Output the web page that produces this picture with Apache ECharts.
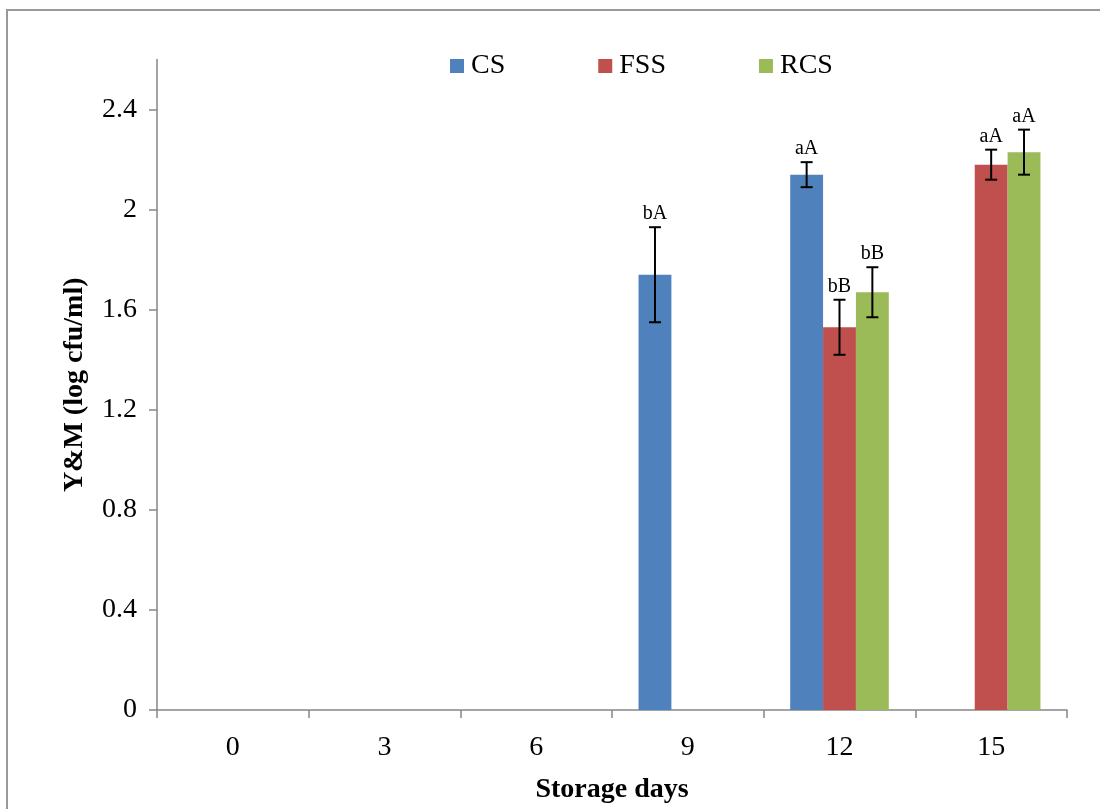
<!DOCTYPE html>
<html>
<head>
<meta charset="utf-8">
<script src="https://cdn.jsdelivr.net/npm/echarts@6/dist/echarts.min.js"></script>
<style>
html,body{margin:0;padding:0;background:#fff;overflow:hidden;}
#chart{width:1100px;height:809px;}
</style>
</head>
<body>
<div id="chart"></div>
<script>
const categories = ['0', '3', '6', '9', '12', '15'];
const seriesNames = ['CS', 'FSS', 'RCS'];
const csValues  = [null, null, null, 1.74, 2.14, null];
const fssValues = [null, null, null, null, 1.53, 2.18];
const rcsValues = [null, null, null, null, 1.67, 2.23];
const csErrors  = [null, null, null, 0.19, 0.05, null];
const fssErrors = [null, null, null, null, 0.11, 0.06];
const rcsErrors = [null, null, null, null, 0.10, 0.09];
const csLabels  = ['', '', '', 'bA', 'aA', ''];
const fssLabels = ['', '', '', '', 'bB', 'aA'];
const rcsLabels = ['', '', '', '', 'bB', 'aA'];
const yTicks = [0, 0.4, 0.8, 1.2, 1.6, 2, 2.4];
const yMax = 2.6;

const colors = ['#4F81BD', '#C0504D', '#9BBB59'];
const FONT = "'Liberation Serif', 'Times New Roman', serif";
const values = [csValues, fssValues, rcsValues];
const errors = [csErrors, fssErrors, rcsErrors];
const labels = [csLabels, fssLabels, rcsLabels];
const CAT_GAP = 0.35;

const barSeries = seriesNames.map((n, s) => ({
  name: n,
  type: 'bar',
  data: values[s],
  barGap: '0%',
  barCategoryGap: (CAT_GAP * 100) + '%',
  itemStyle: { color: colors[s] },
  emphasis: { disabled: true }
}));

const errSeries = seriesNames.map((n, s) => {
  const data = [];
  values[s].forEach((v, i) => {
    if (v != null) data.push([i, v, errors[s][i], labels[s][i]]);
  });
  return {
    name: n + '_err',
    type: 'custom',
    data: data,
    z: 10,
    silent: true,
    renderItem: function (params, api) {
      const i = api.value(0), v = api.value(1), e = api.value(2);
      const lab = data[params.dataIndex][3];
      const band = api.size([1, 0])[0];
      const bw = band * (1 - CAT_GAP) / seriesNames.length;
      const off = (s - (seriesNames.length - 1) / 2) * bw;
      const top = api.coord([i, v + e]);
      const bot = api.coord([i, v - e]);
      const x = top[0] + off;
      const cap = 6;
      const st = { stroke: '#000', lineWidth: 2 };
      return {
        type: 'group',
        children: [
          { type: 'line', shape: { x1: x, y1: top[1], x2: x, y2: bot[1] }, style: st },
          { type: 'line', shape: { x1: x - cap, y1: top[1], x2: x + cap, y2: top[1] }, style: st },
          { type: 'line', shape: { x1: x - cap, y1: bot[1], x2: x + cap, y2: bot[1] }, style: st },
          { type: 'text', style: { text: lab, x: x, y: top[1] - 3, align: 'center', verticalAlign: 'bottom', font: '20px ' + FONT, fill: '#000' } }
        ]
      };
    }
  };
});

const chart = echarts.init(document.getElementById('chart'), null, { renderer: 'canvas' });
chart.setOption({
  animation: false,
  backgroundColor: '#fff',
  textStyle: { fontFamily: FONT },
  graphic: [{
    type: 'rect',
    shape: { x: 7, y: 10, width: 1200, height: 1000 },
    style: { fill: 'none', stroke: '#999', lineWidth: 2 },
    silent: true, z: -1
  }],
  legend: {
    data: seriesNames,
    left: 450,
    top: 52,
    itemGap: 93,
    itemWidth: 14,
    itemHeight: 14,
    padding: 0,
    icon: 'rect',
    textStyle: { fontSize: 28, fontFamily: FONT, color: '#000', padding: [0, 0, 0, 2] }
  },
  grid: { left: 157, right: 33, top: 59.6, bottom: 94, containLabel: false },
  xAxis: {
    type: 'category',
    data: categories,
    name: 'Storage days',
    nameLocation: 'middle',
    nameGap: 66,
    nameTextStyle: { fontSize: 28, fontWeight: 'bold', fontFamily: FONT, color: '#000' },
    axisLine: { lineStyle: { color: '#868686', width: 1.5 } },
    axisTick: { show: true, length: 8, inside: false, lineStyle: { color: '#868686', width: 1.5 } },
    axisLabel: { fontSize: 28, fontFamily: FONT, color: '#000', margin: 24 },
    splitLine: { show: false }
  },
  yAxis: {
    type: 'value',
    min: 0,
    max: yMax,
    interval: 0.4,
    name: 'Y&M (log cfu/ml)',
    nameLocation: 'middle',
    nameRotate: 90,
    nameGap: 68,
    nameTextStyle: { fontSize: 28, fontWeight: 'bold', fontFamily: FONT, color: '#000' },
    axisLine: { show: true, lineStyle: { color: '#868686', width: 1.5 } },
    axisTick: { show: true, length: 8, customValues: yTicks, lineStyle: { color: '#868686', width: 1.5 } },
    axisLabel: { fontSize: 28, fontFamily: FONT, color: '#000', margin: 20, customValues: yTicks },
    splitLine: { show: false }
  },
  series: barSeries.concat(errSeries)
});
</script>
</body>
</html>
